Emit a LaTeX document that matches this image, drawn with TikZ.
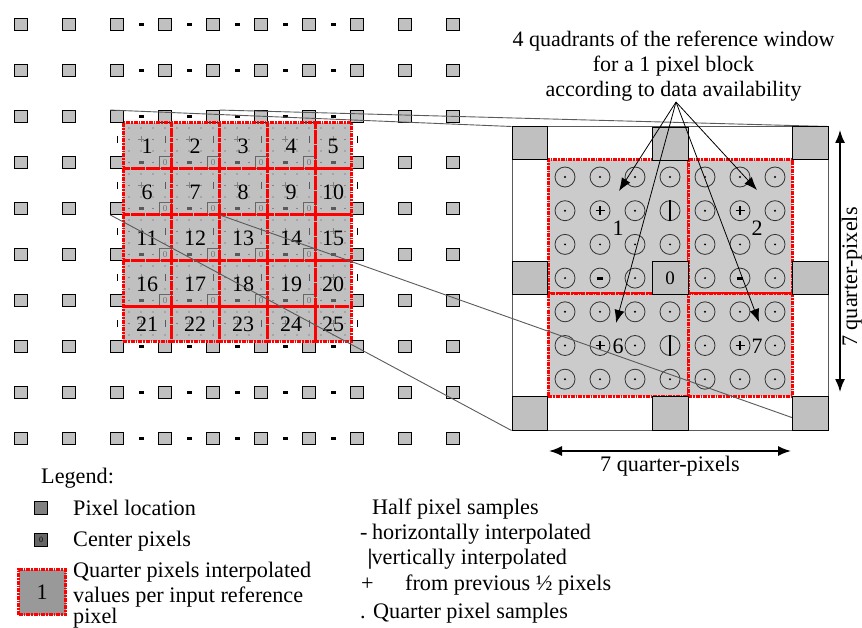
\documentclass[tikz,border=0pt]{standalone}
\usepackage{fontspec}
\setmainfont{Liberation Serif}
\usetikzlibrary{arrows.meta}

\definecolor{pixgray}{HTML}{C0C0C0}
\definecolor{blockgray}{HTML}{CBCBCB}
\definecolor{leadgray}{HTML}{5A5A5A}

\tikzset{
  pixel/.style={draw=black,line width=0.9pt,fill=pixgray,inner sep=0pt,minimum width=12.5pt,minimum height=12pt},
  redcell/.style={draw=red,line width=3pt,dash pattern=on 4pt off 1pt on 1.5pt off 1pt,inner sep=0pt},
  bigpixel/.style={draw=black,line width=0.9pt,fill=pixgray,inner sep=0pt},
  label/.style={inner sep=0pt,anchor=base west,font=\fontsize{22.2}{25}\selectfont},
  sample/.style={draw=black!80,line width=0.8pt,circle,inner sep=0pt,minimum size=20pt},
  leader/.style={draw=leadgray,line width=0.9pt},
  callout/.style={-{Latex[length=13pt,width=10pt]},line width=0.8pt},
  measure/.style={{Latex[length=13pt,width=10pt]}-{Latex[length=13pt,width=10pt]},line width=1.6pt}
}

\begin{document}
\begin{tikzpicture}[x=1pt,y=-1pt]
  \useasboundingbox (0,0) rectangle (862,628);

  % Input pixels
  \foreach \i in {1,...,10}
    \foreach \j in {1,...,10}
      \node[pixel] (pix-\i-\j) at ({21+48*(\i-1)},{24.5+46*(\j-1)}) {};

  % Half pixels around the block
  \foreach \i in {0,...,4}
    \foreach \ry in {24.5,70.5,116.5,346.5,392.5,438.5}
      \fill ({141+48*\i-2.5},\ry-1.5) rectangle ++(5,3);
  \foreach \j in {0,...,4} {
    \draw[line width=0.9pt] (117,{139.5+46*\j-3.5}) -- ++(0,7);
    \draw[line width=0.9pt] (357,{139.5+46*\j-3.5}) -- ++(0,7);
  }

  % Interpolated area
  \fill[pixgray] (123,123) rectangle (351,341);
  \foreach \k in {0,...,18}
    \foreach \m in {1,...,19} {
      \pgfmathtruncatemacro{\skipdot}{(mod(\k,2)==1 && mod(\m,2)==0) ? 1 : 0}
      \ifnum\skipdot=0
        \fill[black!70] ({129+12*\k},{116.5+11.5*\m}) circle (0.6pt);
      \fi
    }
  \foreach \i in {0,...,4}
    \foreach \j in {0,...,4} {
      \draw[black!50,line width=0.7pt] ({141+48*\i-3},{139.5+46*\j}) -- ++(6,0) ({141+48*\i},{139.5+46*\j-3}) -- ++(0,6);
      \ifnum\j<4
        \fill[black!65] ({141+48*\i-2.5},{162.5+46*\j-1.5}) rectangle ++(5,3);
      \fi
      \ifnum\i<4
        \draw[black!65,line width=0.7pt] ({165+48*\i},{139.5+46*\j-3.5}) -- ++(0,7);
        \ifnum\j<4
          \node[draw=black!60,fill=pixgray,line width=0.7pt,inner sep=0pt,minimum width=12pt,minimum height=12pt,text=black!55,font=\fontsize{9}{9}\selectfont] (center-\i-\j) at ({165+48*\i},{162.5+46*\j}) {0};
        \fi
      \fi
    }

  % Red cells with their numbers
  \foreach \cy/\ch [count=\j] in {146/46,192/46,238/46,284/46,324/34}
    \foreach \cx/\cw [count=\i] in {147/48,195/48,243/48,291/48,333/36} {
      \pgfmathtruncatemacro{\n}{5*(\j-1)+\i}
      \node[redcell,minimum width=\cw pt,minimum height=\ch pt,font=\fontsize{22}{22}\selectfont] (cell-\n) at (\cx,\cy) {\n};
    }

  % Enlarged window
  \node[draw=leadgray,fill=white,line width=1pt,inner sep=0pt,minimum width=316pt,minimum height=303pt] (window) at (670,278.5) {};
  \node[redcell,fill=blockgray,minimum width=140pt,minimum height=134pt] (block-1) at (618,227) {};
  \node[redcell,fill=blockgray,minimum width=104pt,minimum height=134pt] (block-2) at (740,227) {};
  \node[redcell,fill=blockgray,minimum width=140pt,minimum height=102pt] (block-6) at (618,345) {};
  \node[redcell,fill=blockgray,minimum width=104pt,minimum height=102pt] (block-7) at (740,345) {};

  % Quarter pixel samples
  \foreach \k in {0,...,6}
    \foreach \m in {0,...,6} {
      \pgfmathtruncatemacro{\oddboth}{(mod(\k,2)==1 && mod(\m,2)==1) ? 1 : 0}
      \pgfmathsetmacro{\sx}{565+35*\k}
      \pgfmathsetmacro{\sy}{177+33.7*\m}
      \pgfmathtruncatemacro{\iszero}{(\k==3 && \m==3) ? 1 : 0}
      \ifnum\iszero=0
        \node[sample] (s-\k-\m) at (\sx,\sy) {};
      \fi
      \ifnum\oddboth=0
        \fill (\sx,\sy) circle (1.1pt);
      \fi
    }
  \foreach \k in {1,5}
    \foreach \m in {1,5} {
      \draw[line width=1.5pt] (s-\k-\m.center) +(-4.5,0) -- +(4.5,0) +(0,-4.5) -- +(0,4.5);
    }
  \foreach \k in {1,5}
    \fill (s-\k-3.center) +(-3,-1.5) rectangle +(3,1.5);
  \foreach \m in {1,5}
    \draw[line width=1.4pt] (s-3-\m.north) -- (s-3-\m.south);

  \node[font=\fontsize{22}{22}\selectfont,inner sep=0pt] (num-1) at (618,228) {1};
  \node[font=\fontsize{22}{22}\selectfont,inner sep=0pt] (num-2) at (757,228) {2};
  \node[font=\fontsize{22}{22}\selectfont,inner sep=0pt] (num-6) at (618,346) {6};
  \node[font=\fontsize{22}{22}\selectfont,inner sep=0pt] (num-7) at (757,346) {7};

  % Leader lines from the pixel to the window
  \draw[leader] (pix-3-3.north west) -- (window.north west);
  \draw[leader] (pix-5-3.north east) -- (window.north east);
  \draw[leader] (pix-3-5.south west) -- (window.south west);
  \draw[leader] (pix-5-5.south east) -- (window.south east);

  % Window pixels
  \node[bigpixel,minimum width=35pt,minimum height=33pt,anchor=north west] (win-a) at (window.north west) {};
  \node[bigpixel,minimum width=36pt,minimum height=33pt] (win-b) at (670,144) {};
  \node[bigpixel,minimum width=36pt,minimum height=33pt,anchor=north east] (win-c) at (window.north east) {};
  \node[bigpixel,minimum width=35pt,minimum height=33pt] (win-d) at (529.5,278) {};
  \node[bigpixel,minimum width=36pt,minimum height=33pt,font=\fontsize{19}{19}\selectfont] (win-e) at (670,278) {0};
  \node[bigpixel,minimum width=36pt,minimum height=33pt] (win-f) at (810,278) {};
  \node[bigpixel,minimum width=35pt,minimum height=34pt,anchor=south west] (win-g) at (window.south west) {};
  \node[bigpixel,minimum width=36pt,minimum height=34pt] (win-h) at (670,413) {};
  \node[bigpixel,minimum width=36pt,minimum height=34pt,anchor=south east] (win-i) at (window.south east) {};

  % Quadrant note and its arrows
  \node[align=center,inner sep=0pt,anchor=base,font=\fontsize{22}{25.3}\selectfont] (note) at (673.5,96.7) {4 quadrants of the reference window\\for a 1 pixel block\\according to data availability};
  \coordinate (fan) at (676,102);
  \coordinate (tip-1) at (619,191);
  \coordinate (tip-2) at (757,190);
  \coordinate (tip-6) at (616,323);
  \coordinate (tip-7) at (759,322);
  \foreach \t in {1,2,6,7}
    \draw[callout] (fan) -- (tip-\t);

  % Window size
  \coordinate (dim-l) at (549,451);
  \coordinate (dim-r) at (791,451);
  \coordinate (dim-t) at (840,130);
  \coordinate (dim-b) at (840,392);
  \draw[measure] (dim-l) -- (dim-r);
  \draw[measure] (dim-t) -- (dim-b);
  \node[label] (dim-h) at (600,471) {7 quarter-pixels};
  \node[label,rotate=90] (dim-v) at (857,347) {7 quarter-pixels};

  % Legend
  \node[label] (leg-title) at (41,483) {Legend:};
  \node[pixel,fill=black!50,minimum width=13.5pt,minimum height=13.5pt] (leg-pix) at (41,508) {};
  \node[label] (leg-pix-t) at (73,515) {Pixel location};
  \node[pixel,fill=black!60,minimum width=13.5pt,minimum height=13.5pt,font=\fontsize{8}{8}\selectfont] (leg-cen) at (41,540) {0};
  \node[label] (leg-cen-t) at (73,546) {Center pixels};
  \node[redcell,fill=black!40,minimum width=47pt,minimum height=45pt,font=\fontsize{22}{22}\selectfont] (leg-red) at (42,592) {1};
  \node[label] (leg-q1) at (73,577) {Quarter pixels interpolated};
  \node[label] (leg-q2) at (73,602) {values per input reference};
  \node[label] (leg-q3) at (73,623) {pixel};

  \node[label] (half-t) at (372,514) {Half pixel samples};
  \node[label] (half-h) at (360,539) {-\kern4.5pt horizontally interpolated};
  \node[label] (half-v) at (367.5,564) {\textbf{|}\kern-1pt vertically interpolated};
  \node[label] (half-p) at (361,590) {+};
  \node[label] (half-f) at (405,590) {from previous ½ pixels};
  \node[label] (half-q) at (360,618) {. Quarter pixel samples};
\end{tikzpicture}
\end{document}
